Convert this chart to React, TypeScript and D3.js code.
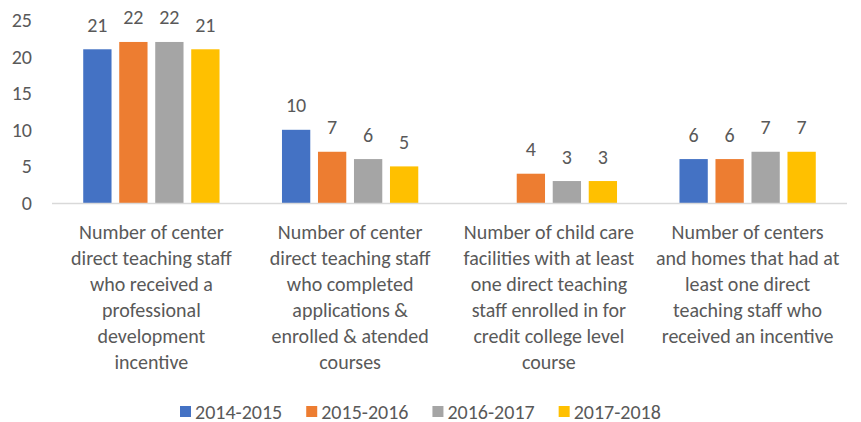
import { useEffect, useRef } from "react";
import * as d3 from "d3";

const categories = [
  ["Number of center", "direct teaching staff", "who received a", "professional", "development", "incentive"],
  ["Number of center", "direct teaching staff", "who completed", "applications &", "enrolled & atended", "courses"],
  ["Number of child care", "facilities with at least", "one direct teaching", "staff enrolled in for", "credit college level", "course"],
  ["Number of centers", "and homes that had at", "least one direct", "teaching staff who", "received an incentive"],
];
const years = ["2014-2015", "2015-2016", "2016-2017", "2017-2018"];
const v2014 = [21, 10, null, 6];
const v2015 = [22, 7, 4, 6];
const v2016 = [22, 6, 3, 7];
const v2017 = [21, 5, 3, 7];
const yTicks = [0, 5, 10, 15, 20, 25];
const colors = ["#4472C4", "#ED7D31", "#A5A5A5", "#FFC000"];

const W = 861;
const H = 422;
const FONT = "Carlito, Calibri, 'Open Sans', sans-serif";
const TEXT = "#595959";
const FS = 20;

const App = () => {
  const ref = useRef<SVGSVGElement>(null);

  useEffect(() => {
    const svg = d3.select(ref.current);
    svg.selectAll("*").remove();

    const series = [v2014, v2015, v2016, v2017];
    const plotLeft = 52;
    const plotRight = 847;
    const baseY = 203;

    const x0 = d3
      .scaleBand<number>()
      .domain(categories.map((_, i) => i))
      .range([plotLeft, plotRight]);
    const groupW = 136.3;
    const x1 = d3.scaleBand<string>().domain(years).range([0, groupW]).paddingInner(0.214);
    const y = d3.scaleLinear().domain([0, 25]).range([baseY, 20]);

    // y tick labels
    svg
      .append("g")
      .selectAll("text")
      .data(yTicks)
      .join("text")
      .attr("x", 32)
      .attr("y", (d) => y(d))
      .attr("dy", "0.35em")
      .attr("text-anchor", "end")
      .attr("font-size", FS)
      .attr("fill", TEXT)
      .text((d) => d);

    // bars
    const groups = svg
      .append("g")
      .selectAll("g")
      .data(categories.map((_, i) => i))
      .join("g")
      .attr("transform", (i) => `translate(${x0(i)! + (x0.bandwidth() - groupW) / 2},0)`);

    const cells = groups
      .selectAll("g")
      .data((i) => years.map((yr, k) => ({ yr, k, v: series[k][i] })).filter((d) => d.v != null))
      .join("g");

    cells
      .append("rect")
      .attr("x", (d) => x1(d.yr)!)
      .attr("width", x1.bandwidth())
      .attr("y", (d) => y(d.v as number))
      .attr("height", (d) => baseY - y(d.v as number))
      .attr("fill", (d) => colors[d.k]);

    cells
      .append("text")
      .attr("x", (d) => x1(d.yr)! + x1.bandwidth() / 2)
      .attr("y", (d) => y(d.v as number) - 17.5)
      .attr("text-anchor", "middle")
      .attr("font-size", FS)
      .attr("fill", TEXT)
      .text((d) => d.v as number);

    // axis line
    svg
      .append("line")
      .attr("x1", plotLeft)
      .attr("x2", plotRight)
      .attr("y1", baseY + 0.5)
      .attr("y2", baseY + 0.5)
      .attr("stroke", "#D9D9D9")
      .attr("stroke-width", 1.5);

    // category labels
    svg
      .append("g")
      .selectAll("text")
      .data(categories)
      .join("text")
      .attr("text-anchor", "middle")
      .attr("font-size", FS)
      .attr("fill", TEXT)
      .each(function (lines, i) {
        d3.select(this)
          .selectAll("tspan")
          .data(lines)
          .join("tspan")
          .attr("x", x0(i)! + x0.bandwidth() / 2)
          .attr("y", (_, j) => 238.5 + j * 26)
          .text((d) => d);
      });

    // legend
    const legend = svg.append("g").attr("font-size", FS).attr("fill", TEXT);
    let lx = 180;
    years.forEach((yr, k) => {
      legend
        .append("rect")
        .attr("x", lx)
        .attr("y", 406)
        .attr("width", 11)
        .attr("height", 11)
        .attr("fill", colors[k]);
      const t = legend
        .append("text")
        .attr("x", lx + 15)
        .attr("y", 411.5)
        .attr("dy", "0.35em")
        .text(yr);
      const w = (t.node() as SVGTextElement).getComputedTextLength();
      lx += 15 + w + 24;
    });
  }, []);

  return (
    <svg
      ref={ref}
      width={W}
      height={H}
      style={{ position: "absolute", left: 0, top: 0, background: "#fff", fontFamily: FONT }}
    />
  );
};

export default App;
